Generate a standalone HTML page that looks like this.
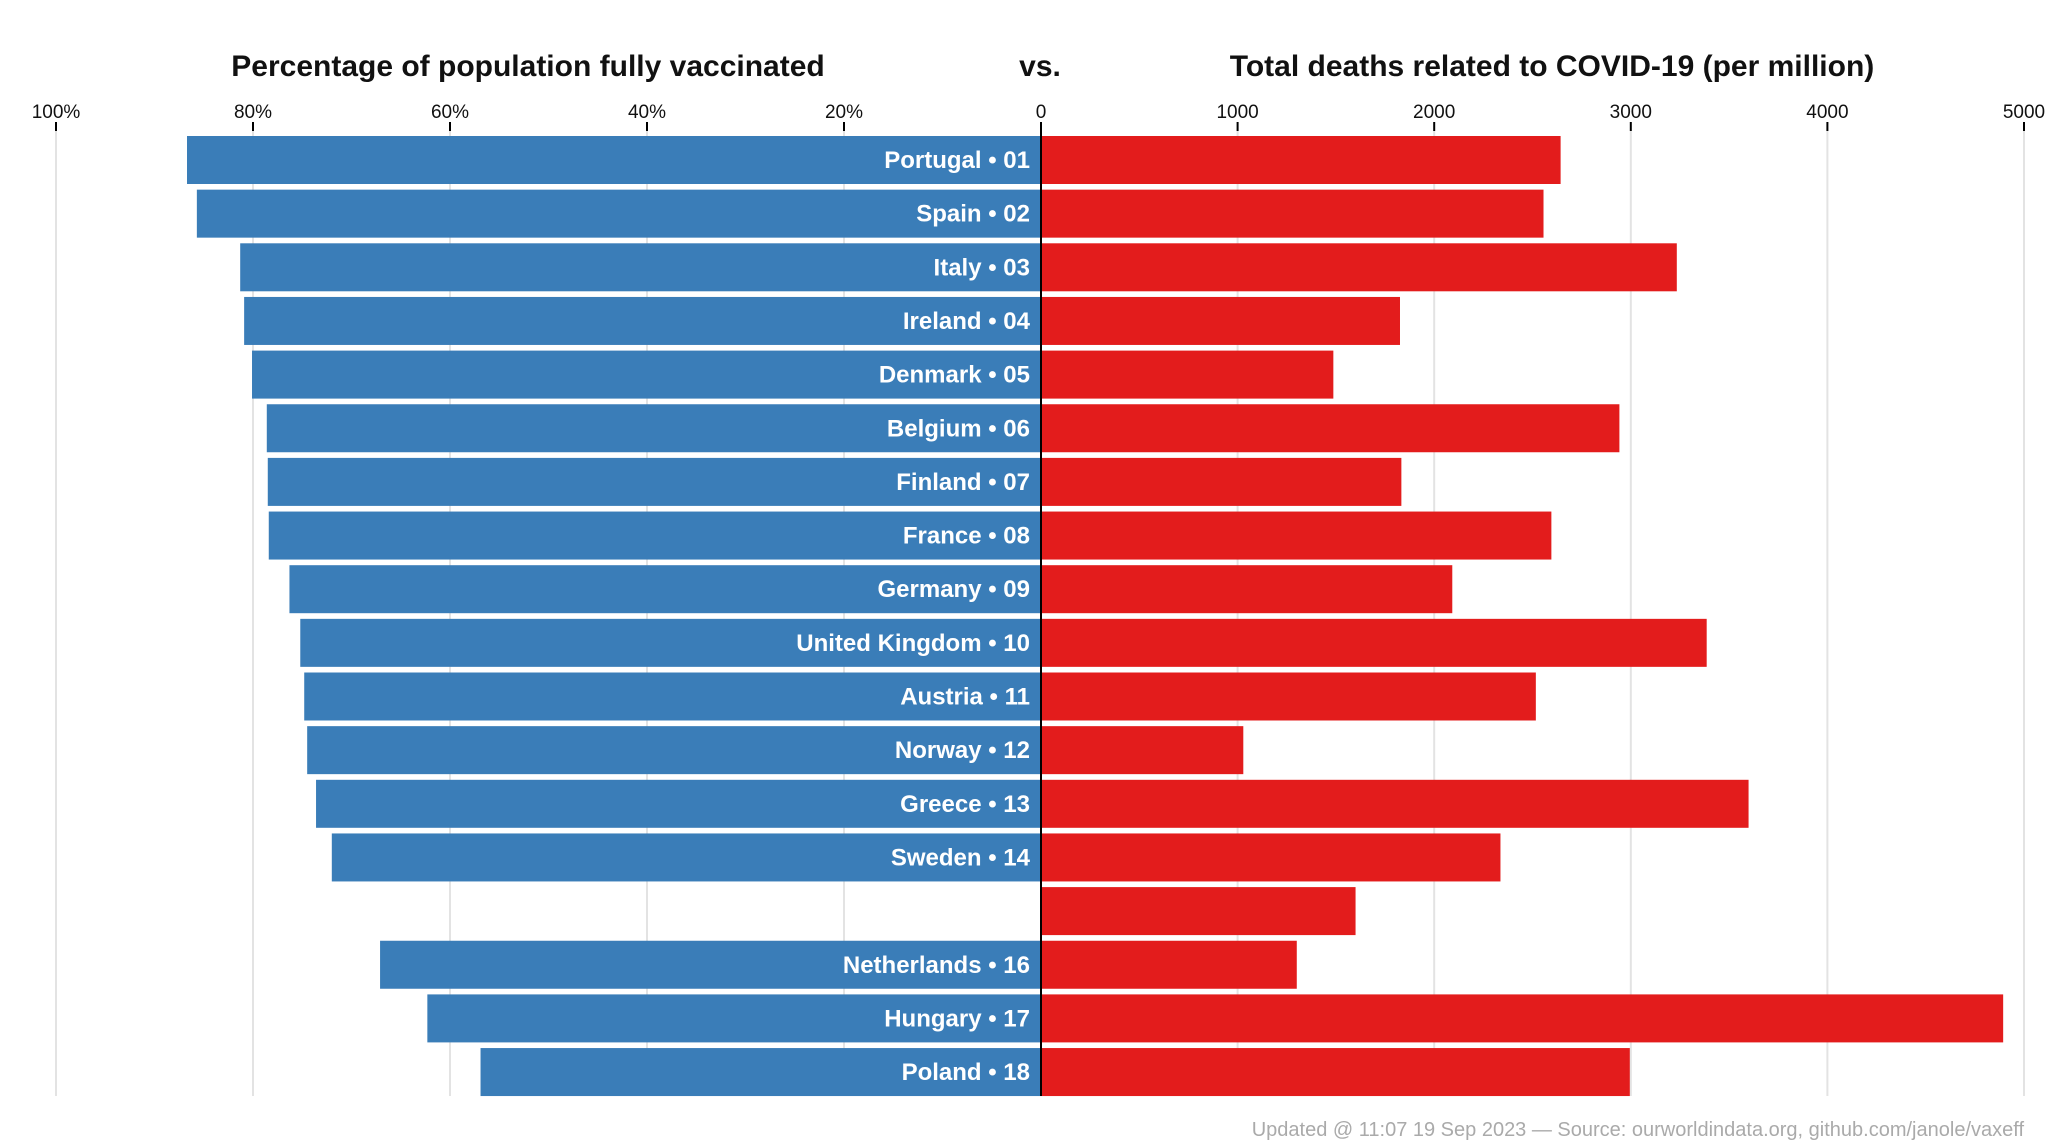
<!DOCTYPE html>
<html><head><meta charset="utf-8"><style>
html,body{margin:0;padding:0;background:#fff;}
svg{display:block;font-family:"Liberation Sans",Arial,sans-serif;}
</style></head><body>
<svg id="chart" width="2048" height="1140" viewBox="0 0 2048 1140">
<g id="grid"></g>
<g id="bars"></g>
<g id="axes"></g>
<text x="528" y="76" text-anchor="middle" font-size="30" font-weight="bold" fill="#111">Percentage of population fully vaccinated</text>
<text x="1040" y="76" text-anchor="middle" font-size="30" font-weight="bold" fill="#111">vs.</text>
<text x="1552" y="76" text-anchor="middle" font-size="30" font-weight="bold" fill="#111">Total deaths related to COVID-19 (per million)</text>
<text x="2024" y="1136" text-anchor="end" font-size="20" fill="#aaaaaa">Updated @ 11:07 19 Sep 2023 — Source: ourworldindata.org, github.com/janole/vaxeff</text>
</svg>
<script>
const countries = ["Portugal","Spain","Italy","Ireland","Denmark","Belgium","Finland","France","Germany","United Kingdom","Austria","Norway","Greece","Sweden","","Netherlands","Hungary","Poland"];
const vaccinated = [86.7,85.7,81.3,80.9,80.1,78.6,78.5,78.4,76.3,75.2,74.8,74.5,73.6,72.0,null,67.1,62.3,56.9];
const deaths = [2643,2556,3234,1826,1487,2942,1833,2596,2092,3386,2517,1029,3599,2337,1600,1301,4894,2995];
const pctTicks = [100,80,60,40,20];
const deathTicks = [0,1000,2000,3000,4000,5000];

const NS = "http://www.w3.org/2000/svg";
const zeroX = 1041, leftW = 985, rightW = 983;
const xPct = v => zeroX - v / 100 * leftW;
const xDeath = v => zeroX + v / 5000 * rightW;
const top0 = 136, pitch = 53.65, barH = 48;
const yBand = i => top0 + i * pitch;
function mk(tag, attrs, parent){const e=document.createElementNS(NS,tag);for(const k in attrs)e.setAttribute(k,attrs[k]);parent.appendChild(e);return e;}
const grid=document.getElementById('grid'), bars=document.getElementById('bars'), axes=document.getElementById('axes');

pctTicks.forEach(t=>{
  const x=xPct(t);
  const l=mk('line',{x1:x,x2:x,y1:131,y2:1096,stroke:'#e3e3e3','stroke-width':2},grid);
  
  
  const tk=mk('line',{x1:x,x2:x,y1:122,y2:131,stroke:'#000','stroke-width':2},axes);
  
  
  const tx=mk('text',{x:x,y:118,'text-anchor':'middle','font-size':19,fill:'#111'},axes);
  tx.textContent=t+'%';
  
  
});
deathTicks.forEach(t=>{
  const x=xDeath(t);
  if(t>0){
    const l=mk('line',{x1:x,x2:x,y1:131,y2:1096,stroke:'#e3e3e3','stroke-width':2},grid);
    
    
  }
  const tk=mk('line',{x1:x,x2:x,y1:122,y2:131,stroke:'#000','stroke-width':2},axes);
  
  
  const tx=mk('text',{x:x,y:118,'text-anchor':'middle','font-size':19,fill:'#111'},axes);
  tx.textContent=String(t);
  
  
});

countries.forEach((c,i)=>{
  const y=yBand(i);
  const v=vaccinated[i];
  if(v!==null){
    const r=mk('rect',{x:xPct(v),y:y,width:zeroX-xPct(v),height:barH,fill:'#3a7db8'},bars);
    
    
  }
  const d=deaths[i];
  const r2=mk('rect',{x:zeroX,y:y,width:xDeath(d)-zeroX,height:barH,fill:'#e31c1c'},bars);
  
  
  if(c){
    const t=mk('text',{x:1030,y:y+barH/2+8,'text-anchor':'end','font-size':24,'font-weight':'bold',fill:'#fff'},bars);
    t.textContent=c+' • '+String(i+1).padStart(2,'0');
    
    
  }
});
const zl=mk('line',{x1:zeroX,x2:zeroX,y1:122,y2:1096,stroke:'#000','stroke-width':2},axes);


</script>
</body></html>
